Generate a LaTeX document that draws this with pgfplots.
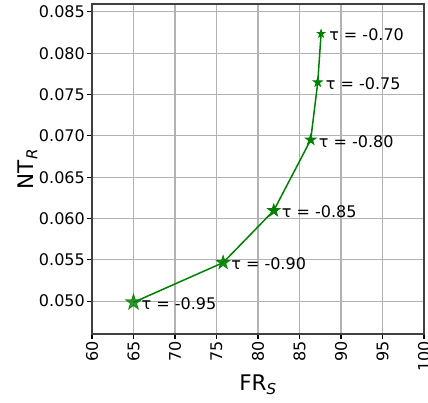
\documentclass[border=0pt]{standalone}
\usepackage{pgfplots}
\pgfplotsset{compat=1.18}
\usepackage{fontspec}
\setmainfont{DejaVu Sans}
\definecolor{mplgreen}{HTML}{008000}
\pgfdeclareplotmark{fstar}{%
  \pgfpathmoveto{\pgfpointpolar{90}{\pgfplotmarksize}}%
  \pgfpathlineto{\pgfpointpolar{126}{0.382*\pgfplotmarksize}}%
  \pgfpathlineto{\pgfpointpolar{162}{\pgfplotmarksize}}%
  \pgfpathlineto{\pgfpointpolar{198}{0.382*\pgfplotmarksize}}%
  \pgfpathlineto{\pgfpointpolar{234}{\pgfplotmarksize}}%
  \pgfpathlineto{\pgfpointpolar{270}{0.382*\pgfplotmarksize}}%
  \pgfpathlineto{\pgfpointpolar{306}{\pgfplotmarksize}}%
  \pgfpathlineto{\pgfpointpolar{342}{0.382*\pgfplotmarksize}}%
  \pgfpathlineto{\pgfpointpolar{18}{\pgfplotmarksize}}%
  \pgfpathlineto{\pgfpointpolar{54}{0.382*\pgfplotmarksize}}%
  \pgfpathclose
  \pgfusepathqfillstroke}
\begin{document}
\begin{tikzpicture}
\useasboundingbox (0pt,0pt) rectangle (428pt,402pt);
\begin{axis}[
  at={(92pt,68pt)}, anchor=south west,
  width=332pt, height=330pt, scale only axis,
  xmin=60, xmax=100, ymin=0.04602, ymax=0.08596,
  xtick={60,65,...,100},
  ytick={0.050,0.055,...,0.0851},
  /pgf/number format/assume math mode=true,
  xticklabel style={rotate=90, anchor=east, font=\fontsize{16}{16}\selectfont, inner sep=2pt},
  yticklabel style={font=\fontsize{16}{16}\selectfont, inner sep=2pt, /pgf/number format/.cd, fixed, fixed zerofill, precision=3},
  scaled y ticks=false,
  grid=major,
  major grid style={color=black!30, line width=1.1pt},
  tick align=outside, tick pos=left,
  major tick length=5pt,
  tick style={black, line width=1.1pt},
  axis line style={black!75, line width=1.1pt},
  xlabel={FR\textsubscript{\itshape S}}, ylabel={NT\textsubscript{\itshape R}},
  xlabel style={font=\fontsize{21.5}{21.5}\selectfont, yshift=2pt},
  ylabel style={font=\fontsize{21.5}{21.5}\selectfont, yshift=-4pt},
  clip=false,
]
\addplot[mplgreen, line width=1.5pt, no marks] coordinates {
  (65.0,0.04985) (75.8,0.05466) (81.9,0.06096) (86.35,0.06952) (87.2,0.07648) (87.6,0.08237)};
\addplot[only marks, mark=fstar, mark size=8.2pt, mplgreen, mark options={line width=0.8pt, fill=mplgreen, draw=mplgreen, opacity=0.8}] coordinates {(65.0,0.04985)};
\addplot[only marks, mark=fstar, mark size=7.1pt, mplgreen, mark options={line width=0.8pt, fill=mplgreen, draw=mplgreen, opacity=0.9}] coordinates {(75.8,0.05466)};
\addplot[only marks, mark=fstar, mark size=6.5pt, mplgreen, mark options={line width=0.8pt, fill=mplgreen, draw=mplgreen}] coordinates {(81.9,0.06096)};
\addplot[only marks, mark=fstar, mark size=5.5pt, mplgreen, mark options={line width=0.8pt, fill=mplgreen, draw=mplgreen}] coordinates {(86.35,0.06952)};
\addplot[only marks, mark=fstar, mark size=4.7pt, mplgreen, mark options={line width=0.8pt, fill=mplgreen, draw=mplgreen}] coordinates {(87.2,0.07648)};
\addplot[only marks, mark=fstar, mark size=4.0pt, mplgreen, mark options={line width=0.8pt, fill=mplgreen, draw=mplgreen}] coordinates {(87.6,0.08237)};
\addplot[only marks, mark=none, nodes near coords, point meta=explicit symbolic,
  every node near coord/.style={anchor=west, xshift=7pt, yshift=-1.5pt, text=black, font=\fontsize{16}{16}\selectfont, inner sep=1pt}]
  table[meta=label, col sep=comma] {
x,y,label
65.0,0.04985,τ = -0.95
75.8,0.05466,τ = -0.90
81.9,0.06096,τ = -0.85
86.35,0.06952,τ = -0.80
87.2,0.07648,τ = -0.75
87.6,0.08237,τ = -0.70
};
\end{axis}
\end{tikzpicture}
\end{document}
